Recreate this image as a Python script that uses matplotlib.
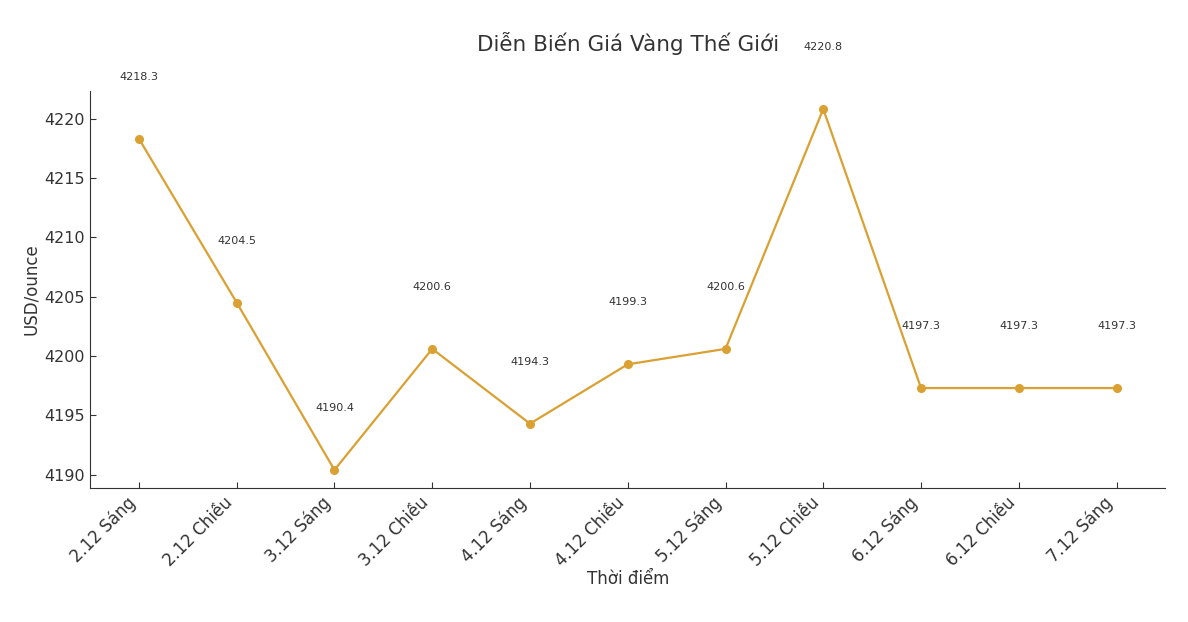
import matplotlib.pyplot as plt

plt.rcParams['font.family'] = ['DejaVu Sans']
plt.rcParams['text.color'] = '#333333'
plt.rcParams['axes.labelcolor'] = '#333333'
plt.rcParams['xtick.color'] = '#333333'
plt.rcParams['ytick.color'] = '#333333'
plt.rcParams['axes.edgecolor'] = '#333333'

# data
times = ['2.12 Sáng', '2.12 Chiều', '3.12 Sáng', '3.12 Chiều', '4.12 Sáng',
         '4.12 Chiều', '5.12 Sáng', '5.12 Chiều', '6.12 Sáng', '6.12 Chiều', '7.12 Sáng']
prices = [4218.3, 4204.5, 4190.4, 4200.6, 4194.3, 4199.3, 4200.6, 4220.8, 4197.3, 4197.3, 4197.3]

fig = plt.figure(figsize=(11.88, 6.22), dpi=100)
ax = fig.add_axes([0.0758, 0.2154, 0.9052, 0.6383])

x = range(len(times))
ax.plot(x, prices, marker='o', color='#DAA032', linewidth=1.6, markersize=5.5)

# value labels above each point
for i, p in enumerate(prices):
    ax.text(i, p + 4.8, f"{p:.1f}", ha='center', va='bottom', fontsize=8)

ax.set_xticks(list(x))
ax.set_xticklabels(times, rotation=45, ha='right', fontsize=12)
ax.tick_params(axis='both', direction='in', length=4, pad=4)
ax.tick_params(axis='y', labelsize=11.5)
ax.set_xlabel('Thời điểm', fontsize=12, labelpad=0)
ax.set_ylabel('USD/ounce', fontsize=12, labelpad=3)
ax.set_title('Diễn Biến Giá Vàng Thế Giới', fontsize=15.5, pad=29)

ax.spines['top'].set_visible(False)
ax.spines['right'].set_visible(False)

fig.savefig('out.png', dpi=100)
